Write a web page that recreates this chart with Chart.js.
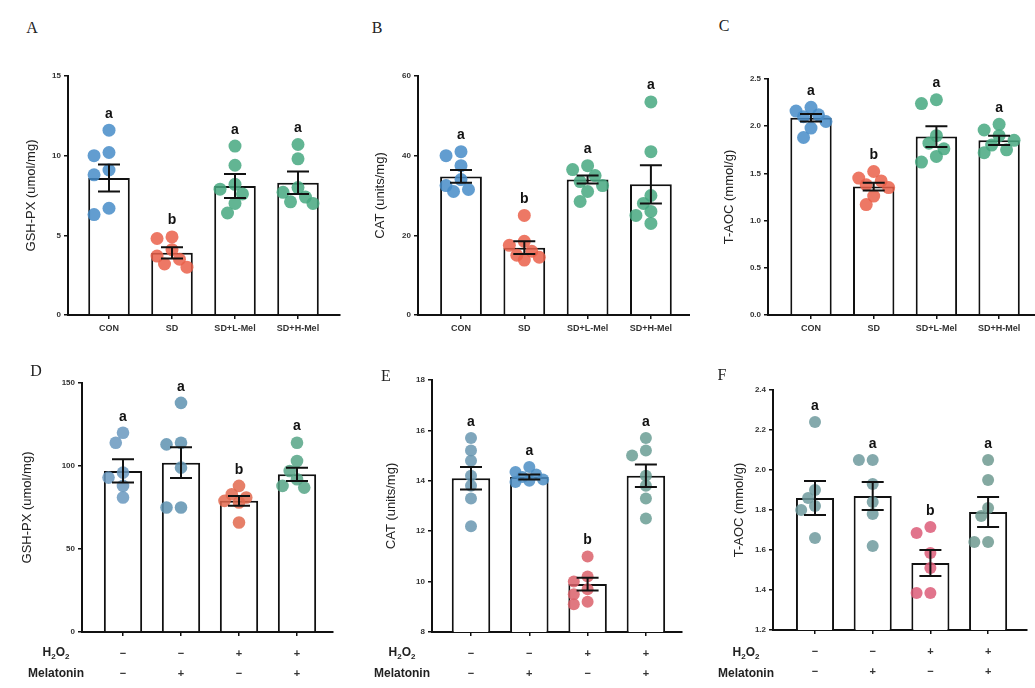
<!DOCTYPE html>
<html>
<head>
<meta charset="utf-8">
<script src="https://cdn.jsdelivr.net/npm/chart.js@4.4.1/dist/chart.umd.min.js"></script>
<style>
  body { margin: 0; background: #fff; width: 1035px; height: 688px; overflow: hidden; position: relative;
         font-family: Arial, "Liberation Sans", sans-serif; }
  .box { position: absolute; }
  .tag { position: absolute; font-family: "Liberation Serif", "Times New Roman", serif; font-size: 16px; color: #222;
         transform: translate(-50%, -50%); }
  .row { position: absolute; font-size: 12px; font-weight: bold; color: #222; transform: translate(-50%, -50%);
         white-space: nowrap; }
</style>
</head>
<body>
<script>
// ---- data ----
const groupsTop = ['CON', 'SD', 'SD+L-Mel', 'SD+H-Mel'];
const h2o2Row = ['−', '−', '+', '+'];
const melRow = ['−', '+', '−', '+'];

const ticksA = [0, 5, 10, 15];
const ticksB = [0, 20, 40, 60];
const ticksC = [0, 0.5, 1.0, 1.5, 2.0, 2.5];
const ticksD = [0, 50, 100, 150];
const ticksE = [8, 10, 12, 14, 16, 18];
const ticksF = [1.2, 1.4, 1.6, 1.8, 2.0, 2.2, 2.4];

// A: GSH-PX, tissue
const gshA = [[11.6, 10.2, 10.0, 9.1, 8.8, 6.7, 6.3], [4.9, 4.8, 4.1, 3.7, 3.5, 3.2, 3.0],
              [10.6, 9.4, 8.2, 7.9, 7.6, 7.0, 6.4], [10.7, 9.8, 8.0, 7.7, 7.4, 7.1, 7.0]];
const gshAMean = [8.6, 3.9, 8.1, 8.3];
const gshASem = [0.85, 0.35, 0.75, 0.7];
const lettersA = ['a', 'b', 'a', 'a'];

// B: CAT, tissue
const catB = [[41, 40, 37.5, 34, 32.5, 31.5, 31], [25, 18.5, 17.5, 16, 15, 14.5, 13.8],
              [37.5, 36.5, 35, 33.5, 32.5, 31, 28.5], [53.5, 41, 30, 28, 26, 25, 23]];
const catBMean = [34.8, 16.9, 34.0, 32.8];
const catBSem = [1.6, 1.6, 1.0, 4.8];
const lettersB = ['a', 'b', 'a', 'a'];

// C: T-AOC, tissue
const taocC = [[2.2, 2.16, 2.12, 2.1, 2.05, 1.98, 1.88], [1.52, 1.45, 1.42, 1.38, 1.35, 1.26, 1.17],
               [2.28, 2.24, 1.9, 1.82, 1.76, 1.68, 1.62], [2.02, 1.96, 1.9, 1.85, 1.8, 1.75, 1.72]];
const taocCMean = [2.09, 1.36, 1.89, 1.85];
const taocCSem = [0.04, 0.04, 0.11, 0.05];
const lettersC = ['a', 'b', 'a', 'a'];

// D: GSH-PX, cells
const gshD = [[120, 114, 96, 93, 88, 81], [138, 114, 113, 99, 75, 75],
              [88, 83, 81, 79, 78, 66], [114, 103, 97, 92, 88, 87]];
const gshDMean = [97, 102, 79, 95];
const gshDSem = [7, 9.3, 3, 4];
const lettersD = ['a', 'a', 'b', 'a'];

// E: CAT, cells
const catE = [[15.7, 15.2, 14.8, 14.2, 13.8, 13.3, 12.2], [14.55, 14.35, 14.25, 14.15, 14.05, 14.0, 13.95],
              [11.0, 10.2, 10.0, 9.7, 9.5, 9.2, 9.1], [15.7, 15.2, 15.0, 14.2, 13.8, 13.3, 12.5]];
const catEMean = [14.1, 14.15, 9.9, 14.2];
const catESem = [0.45, 0.1, 0.25, 0.45];
const lettersE = ['a', 'a', 'b', 'a'];

// F: T-AOC, cells
const taocF = [[2.24, 1.9, 1.86, 1.82, 1.8, 1.66], [2.05, 2.05, 1.93, 1.84, 1.78, 1.62],
               [1.715, 1.685, 1.585, 1.51, 1.385, 1.385], [2.05, 1.95, 1.81, 1.77, 1.64, 1.64]];
const taocFMean = [1.86, 1.87, 1.535, 1.79];
const taocFSem = [0.085, 0.07, 0.065, 0.075];
const lettersF = ['a', 'a', 'b', 'a'];

// ---- colours ----
const colorsTop = ['rgba(70,140,200,0.85)', 'rgba(234,96,74,0.85)', 'rgba(70,168,128,0.85)', 'rgba(70,168,128,0.85)'];
const colorsD = ['rgba(104,152,190,0.85)', 'rgba(94,146,176,0.85)', 'rgba(226,104,78,0.85)', 'rgba(86,164,134,0.85)'];
const colorsE = ['rgba(104,150,176,0.85)', 'rgba(76,142,196,0.85)', 'rgba(218,96,106,0.85)', 'rgba(106,158,148,0.85)'];
const colorsF = ['rgba(110,154,158,0.85)', 'rgba(110,154,158,0.85)', 'rgba(220,92,120,0.85)', 'rgba(110,154,144,0.85)'];

const panels = [
  { key: 'A', vals: gshA, mean: gshAMean, sem: gshASem, letters: lettersA, ticks: ticksA, dec: 0,
    title: 'GSH-PX (umol/mg)', colors: colorsTop, bottom: false },
  { key: 'B', vals: catB, mean: catBMean, sem: catBSem, letters: lettersB, ticks: ticksB, dec: 0,
    title: 'CAT (units/mg)', colors: colorsTop, bottom: false },
  { key: 'C', vals: taocC, mean: taocCMean, sem: taocCSem, letters: lettersC, ticks: ticksC, dec: 1,
    title: 'T-AOC (mmol/g)', colors: colorsTop, bottom: false },
  { key: 'D', vals: gshD, mean: gshDMean, sem: gshDSem, letters: lettersD, ticks: ticksD, dec: 0,
    title: 'GSH-PX (umol/mg)', colors: colorsD, bottom: true },
  { key: 'E', vals: catE, mean: catEMean, sem: catESem, letters: lettersE, ticks: ticksE, dec: 0,
    title: 'CAT (units/mg)', colors: colorsE, bottom: true },
  { key: 'F', vals: taocF, mean: taocFMean, sem: taocFSem, letters: lettersF, ticks: ticksF, dec: 1,
    title: 'T-AOC (mmol/g)', colors: colorsF, bottom: true }
];

// ---- page layout (px) ----
const boxes = {
  A: { left: 0, top: 40, width: 345, height: 305, axisX: 68, axisEnd: 340, yTop: 76, yBot: 315, c0: 109, step: 63, titleX: 32, tag: [32, 28], r: 6.5 },
  B: { left: 345, top: 40, width: 345, height: 305, axisX: 418, axisEnd: 690, yTop: 76, yBot: 315, c0: 461, step: 63.3, titleX: 36, tag: [377, 28], r: 6.5 },
  C: { left: 690, top: 40, width: 345, height: 305, axisX: 768, axisEnd: 1035, yTop: 79, yBot: 315, c0: 811, step: 62.7, titleX: 40, tag: [724, 26], r: 6.5 },
  D: { left: 0, top: 350, width: 345, height: 338, axisX: 82, axisEnd: 333, yTop: 383, yBot: 632, c0: 123, step: 58, titleX: 28, tag: [36, 371], r: 6.3, rowX: 56 },
  E: { left: 345, top: 350, width: 345, height: 338, axisX: 432, axisEnd: 682, yTop: 380, yBot: 632, c0: 471, step: 58.3, titleX: 47, tag: [386, 376], r: 6, rowX: 402 },
  F: { left: 690, top: 350, width: 345, height: 338, axisX: 773, axisEnd: 1027, yTop: 390, yBot: 630, c0: 815, step: 57.7, titleX: 50, tag: [722, 375], r: 6, rowX: 746 }
};

// compact beeswarm: nudge points sideways when they would overlap too much
function swarm(vals, yMin, yMax, plotH, step, r) {
  const placed = [];
  return vals.map(v => {
    const py = (v - yMin) / (yMax - yMin) * plotH;
    let off = 0, best = -1;
    for (const k of [0, -1, 1, -2, 2]) {
      const dx = k * r * 1.15;
      const gap = placed.length ? Math.min(...placed.map(q => Math.hypot(q.dx - dx, q.py - py))) : 99;
      if (gap >= r * 1.6) { off = dx; best = 1; break; }
      if (gap > best) { best = gap; off = dx; }
    }
    placed.push({ dx: off, py });
    return off / step;
  });
}

function errorBarPlugin(p, b) {
  return {
    id: 'errorBars' + p.key,
    afterDatasetsDraw(chart) {
      const { ctx, scales: { x, y } } = chart;
      ctx.save();
      ctx.strokeStyle = '#111';
      ctx.lineWidth = 2;
      ctx.fillStyle = '#111';
      ctx.font = 'bold 14px Arial, "Liberation Sans", sans-serif';
      ctx.textAlign = 'center';
      ctx.textBaseline = 'alphabetic';
      const cap = 11;
      p.mean.forEach((m, i) => {
        const cx = x.getPixelForValue(i);
        const yt = y.getPixelForValue(m + p.sem[i]);
        const yb = y.getPixelForValue(m - p.sem[i]);
        ctx.beginPath();
        ctx.moveTo(cx, yt); ctx.lineTo(cx, yb);
        ctx.moveTo(cx - cap, yt); ctx.lineTo(cx + cap, yt);
        ctx.moveTo(cx - cap, yb); ctx.lineTo(cx + cap, yb);
        ctx.stroke();
        const topPt = y.getPixelForValue(Math.max(...p.vals[i])) - b.r;
        ctx.fillText(p.letters[i], cx, Math.min(topPt, yt) - 6);
      });
      ctx.restore();
    }
  };
}

function addText(cls, text, x, y) {
  const d = document.createElement('div');
  d.className = cls;
  d.innerHTML = text;
  d.style.left = x + 'px';
  d.style.top = y + 'px';
  document.body.appendChild(d);
}

const fontFam = 'Arial, "Liberation Sans", sans-serif';

panels.forEach(p => {
  const b = boxes[p.key];
  const div = document.createElement('div');
  div.className = 'box';
  div.style.left = b.left + 'px';
  div.style.top = b.top + 'px';
  const cv = document.createElement('canvas');
  cv.width = b.width;
  cv.height = b.height;
  div.appendChild(cv);
  document.body.appendChild(div);

  const yMin = p.ticks[0], yMax = p.ticks[p.ticks.length - 1];
  const xMin = -(b.c0 - b.axisX) / b.step;
  const xMax = xMin + (b.axisEnd - b.axisX) / b.step;
  const plotH = b.yBot - b.yTop;

  const pts = [], ptColors = [];
  p.vals.forEach((g, i) => {
    const offs = swarm(g, yMin, yMax, plotH, b.step, b.r);
    g.forEach((v, j) => { pts.push({ x: i + offs[j], y: v }); ptColors.push(p.colors[i]); });
  });

  new Chart(cv.getContext('2d'), {
    type: 'bar',
    data: {
      datasets: [
        {
          type: 'bar',
          data: p.mean.map((m, i) => ({ x: i, y: m })),
          backgroundColor: '#fff',
          borderColor: '#111',
          borderWidth: 2,
          categoryPercentage: 1,
          barPercentage: 0.66,
          order: 2
        },
        {
          type: 'scatter',
          data: pts,
          pointRadius: b.r,
          pointBackgroundColor: ptColors,
          pointBorderWidth: 0,
          order: 1
        }
      ]
    },
    options: {
      responsive: false,
      animation: false,
      events: [],
      layout: {
        autoPadding: false,
        padding: { top: b.yTop - b.top, right: b.left + b.width - b.axisEnd, left: 0, bottom: 0 }
      },
      plugins: { legend: { display: false }, tooltip: { enabled: false } },
      scales: {
        x: {
          type: 'linear',
          min: xMin,
          max: xMax,
          offset: false,
          afterBuildTicks: s => { s.ticks = p.mean.map((_, i) => ({ value: i })); },
          afterFit: s => { s.height = b.top + b.height - b.yBot; },
          grid: { display: true, offset: false, drawOnChartArea: false, drawTicks: true, tickLength: 4, color: '#111', lineWidth: 1.5 },
          border: { display: true, color: '#111', width: 2 },
          ticks: {
            autoSkip: false,
            maxRotation: 0,
            padding: p.bottom ? 8 : 4,
            color: '#333',
            font: p.bottom ? { family: fontFam, size: 11, weight: 'bold', lineHeight: '20px' }
                           : { family: fontFam, size: 9, weight: 'bold' },
            callback: (v, i) => p.bottom ? [h2o2Row[i], melRow[i]] : groupsTop[i]
          }
        },
        y: {
          min: yMin,
          max: yMax,
          afterBuildTicks: s => { s.ticks = p.ticks.map(v => ({ value: v })); },
          afterFit: s => { s.width = b.axisX - b.left; },
          grid: { display: true, drawOnChartArea: false, drawTicks: true, tickLength: 4, color: '#111', lineWidth: 1.5 },
          border: { display: true, color: '#111', width: 2 },
          ticks: {
            padding: 3,
            color: '#333',
            font: { family: fontFam, size: 8, weight: 'bold' },
            callback: v => v.toFixed(p.dec)
          },
          title: {
            display: true,
            text: p.title,
            color: '#222',
            font: { family: fontFam, size: 13 },
            padding: { top: b.titleX - 8, bottom: 0 }
          }
        }
      }
    },
    plugins: [errorBarPlugin(p, b)]
  });

  addText('tag', p.key, b.tag[0], b.tag[1]);
  if (p.bottom) {
    addText('row', 'H<sub style="font-size:8px">2</sub>O<sub style="font-size:8px">2</sub>', b.rowX, 653);
    addText('row', 'Melatonin', b.rowX, 673);
  }
});
</script>
</body>
</html>
